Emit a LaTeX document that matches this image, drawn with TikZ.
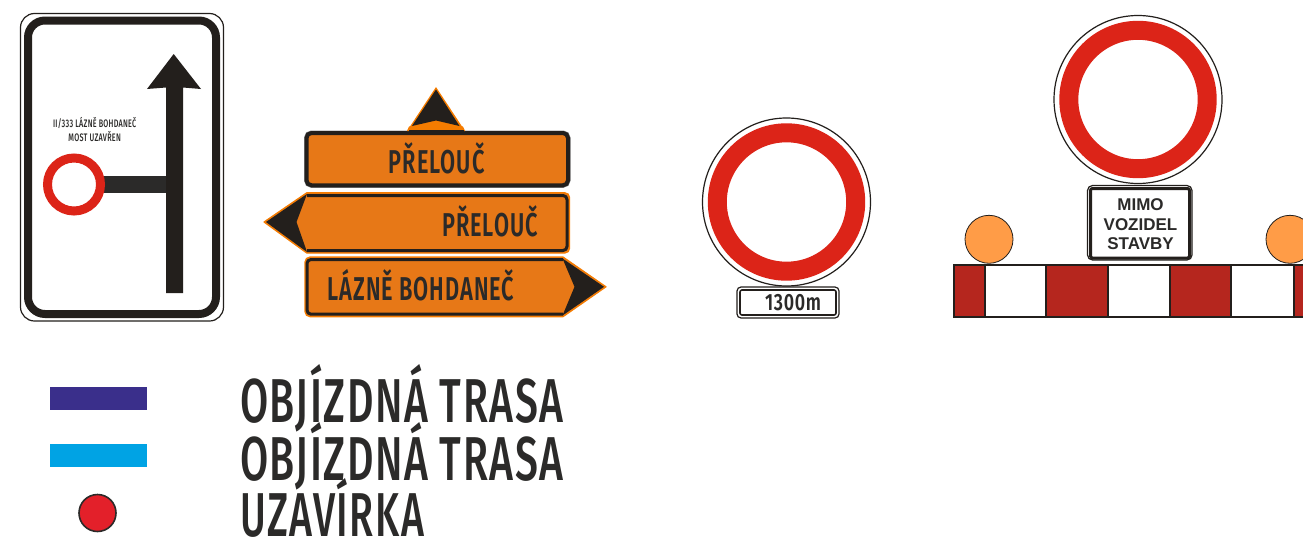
\documentclass[tikz,border=0pt]{standalone}
\usepackage{fontspec}
\setmainfont{Liberation Sans}
\newfontfamily\din[FakeStretch=0.66,LetterSpace=2.5]{Fira Sans Medium}
\newfontfamily\dinb[FakeStretch=0.66,LetterSpace=3]{Fira Sans SemiBold}
\newfontfamily\dinc[FakeStretch=0.76,LetterSpace=3]{Fira Sans SemiBold}
\definecolor{ink}{HTML}{231F1C}
\definecolor{ink2}{HTML}{2B2A29}
\definecolor{signred}{HTML}{DC2418}
\definecolor{barred}{HTML}{B5261E}
\definecolor{signorange}{HTML}{E77817}
\definecolor{brightorange}{HTML}{F57C00}
\definecolor{lamp}{HTML}{FF9C47}
\definecolor{navy}{HTML}{3A2F8B}
\definecolor{sky}{HTML}{00A3E4}
\definecolor{dotred}{HTML}{E3202A}
\tikzset{
  x=1pt,y=-1pt,
  thinline/.style={draw=ink,line width=1.2},
  prohibit/.style={draw=signred,line width=19,fill=white},
  dintext/.style={text=ink2,inner sep=0,anchor=base,font=\dinb\fontsize{33}{33}\selectfont},
  smalltext/.style={text=ink2,inner sep=0,anchor=base,font=\din\fontsize{10.9}{10.9}\selectfont},
  legendtext/.style={text=ink2,inner sep=0,anchor=base west,font=\din\fontsize{62}{62}\selectfont},
  platetext/.style={inner sep=0,text=ink2,anchor=base,font=\bfseries\fontsize{17}{17}\selectfont},
  cell/.style={draw=ink,line width=2},
}
\begin{document}
\begin{tikzpicture}
\useasboundingbox (0,0) rectangle (1303,538);
% sign 1
\draw[thinline,fill=white,rounded corners=14] (20.5,13.5) rectangle (223.5,321);
\draw[draw=ink,line width=8,rounded corners=17] (28,20.5) rectangle (216,314);
\fill[ink] (166,293) -- (166,87.5) -- (147,89) -- (173.7,54) -- (201,89) -- (183,87.5) -- (183,293) -- cycle;
\fill[ink2] (100,176) rectangle (166,193);
\draw[draw=signred,line width=9,fill=white] (74,184.5) circle[radius=26.5];
\node[smalltext] (s1a) at (94.7,127.3) {II/333 LÁZNĚ BOHDANEČ};
\node[smalltext] (s1b) at (94.7,141.7) {MOST UZAVŘEN};
% sign 2 top
\fill[brightorange] (436,87) -- (465,131) -- (407,131) -- cycle;
\draw[draw=gray,line width=5,rounded corners=5] (306.5,133) rectangle (568,185.3);
\draw[draw=ink,line width=4,fill=signorange,rounded corners=5] (306.5,133) rectangle (568,185.3);
\fill[brightorange] (409,126.5) -- (412,126) -- (436,120.5) -- (459.5,126) -- (463,126.5) -- (465,131) -- (407,131) -- cycle;
\fill[ink] (436,89.5) -- (459.5,126) -- (436,120.5) -- (412,126) -- cycle;
\draw[ink,line width=1.5] (409,131) -- (464,131);
\node[dintext] (p1) at (436.7,173.3) {PŘELOUČ};
% left arrow
\draw[draw=brightorange,line width=1.2,fill=signorange,line join=round] (264,222) -- (306.7,192.8) -- (565,192.8) arc[start angle=-90,end angle=0,radius=4.5] -- (569.5,248.5) arc[start angle=0,end angle=90,radius=4.5] -- (306.7,253) -- cycle;
\draw[draw=ink,line width=3,line join=round] (307,195.5) -- (563,195.5) arc[start angle=-90,end angle=0,radius=4] -- (567,246.5) arc[start angle=0,end angle=90,radius=4] -- (307,250.5);
\fill[ink] (266,222) -- (307,194) -- (296.5,222) -- (307,252) -- cycle;
\node[dintext] (p2) at (490,236.7) {PŘELOUČ};
% right arrow
\draw[draw=brightorange,line width=1.2,fill=signorange,line join=round] (606,286.8) -- (563,257) -- (310,257) arc[start angle=-90,end angle=-180,radius=5] -- (305,311.7) arc[start angle=180,end angle=90,radius=5] -- (563,316.7) -- cycle;
\draw[draw=ink,line width=3,line join=round] (563,259.5) -- (311,259.5) arc[start angle=-90,end angle=-180,radius=4] -- (307,310.2) arc[start angle=180,end angle=90,radius=4] -- (563,314.2);
\fill[ink] (604,286.8) -- (562.5,258.5) -- (574.5,286.8) -- (562.5,315.5) -- cycle;
\node[dintext] (p3) at (421,300) {LÁZNĚ BOHDANEČ};
% sign 3
\draw[thinline,fill=white] (786.5,202) circle[radius=84];
\draw[prohibit] (786.5,202) circle[radius=69.2];
\draw[thinline,fill=white,rounded corners=4] (737,287) rectangle (839,318);
\draw[thinline,line width=1.6,rounded corners=2] (740,290) rectangle (836,315);
\node[dintext,font=\dinc\fontsize{23.5}{23.5}\selectfont] (p4) at (793,310.7) {1300m};
% sign 4
\draw[thinline,fill=white] (1138,99.5) circle[radius=84];
\draw[prohibit] (1138,99.5) circle[radius=69.2];
\draw[thinline,fill=white,rounded corners=5] (1087.5,185.5) rectangle (1192,260);
\draw[draw=ink,line width=3,rounded corners=2] (1090.5,188.5) rectangle (1189.5,258);
\node[platetext] (m1) at (1140.5,210) {MIMO};
\node[platetext] (m2) at (1140.5,230) {VOZIDEL};
\node[platetext] (m3) at (1140.5,249) {STAVBY};
% barrier
\begin{scope}
\clip (950,200) rectangle (1303,325);
\draw[cell,fill=barred] (954,264.5) rectangle (985,316.5);
\draw[cell,fill=white] (985,264.5) rectangle (1046,316.5);
\draw[cell,fill=barred] (1046,264.5) rectangle (1108,316.5);
\draw[cell,fill=white] (1108,264.5) rectangle (1170,316.5);
\draw[cell,fill=barred] (1170,264.5) rectangle (1231,316.5);
\draw[cell,fill=white] (1231,264.5) rectangle (1294,316.5);
\draw[cell,fill=barred] (1294,264.5) rectangle (1340,316.5);
\draw[thinline,line width=0.8,fill=lamp] (989,239.3) circle[radius=24];
\draw[thinline,line width=0.8,fill=lamp] (1290,239.3) circle[radius=24];
\end{scope}
% legend
\fill[navy] (50,386.5) rectangle (147,409.5);
\fill[sky] (50,444) rectangle (147,467);
\draw[draw=ink2,line width=1.6,fill=dotred] (97.5,513) circle[radius=18.5];
\node[legendtext] (l1) at (240,422) {OBJÍZDNÁ TRASA};
\node[legendtext] (l2) at (240,480) {OBJÍZDNÁ TRASA};
\node[legendtext] (l3) at (240,536.5) {\scalebox{0.96}[1]{UZAVÍRKA}};
\end{tikzpicture}
\end{document}
